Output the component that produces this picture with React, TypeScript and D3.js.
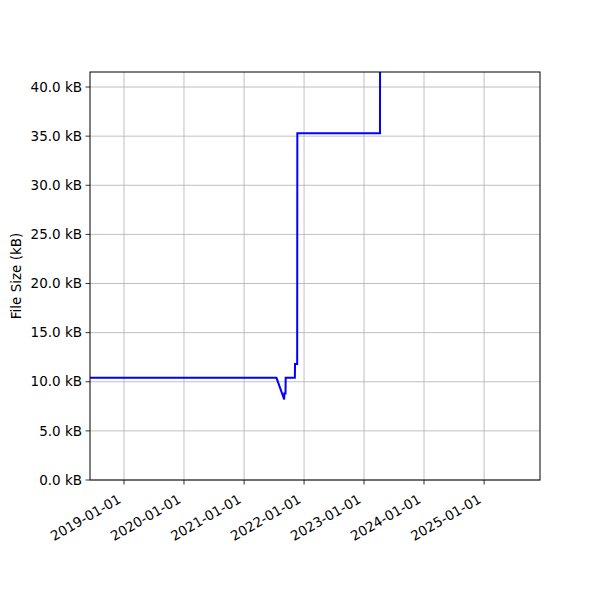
import React from "react";
import * as d3 from "d3";

const dates: string[] = [
  "2018-06-08", "2021-07-17", "2021-09-02", "2021-09-03", "2021-09-10", "2021-09-11",
  "2021-11-06", "2021-11-07", "2021-11-20", "2021-11-21", "2023-04-08", "2023-04-09",
];
const sizesKB: number[] = [10.4, 10.4, 8.2, 8.8, 8.8, 10.4, 10.4, 11.8, 11.8, 35.3, 35.3, 48];
const xTickLabels: string[] = [
  "2019-01-01", "2020-01-01", "2021-01-01", "2022-01-01", "2023-01-01", "2024-01-01", "2025-01-01",
];
const yTicks: number[] = [0, 5, 10, 15, 20, 25, 30, 35, 40];

export default function App() {
  const W = 600, H = 600;
  const left = 90, right = 540, top = 72, bottom = 480;
  const parse = d3.utcParse("%Y-%m-%d");
  const x = d3.scaleUtc()
    .domain([parse("2018-06-08")!, parse("2025-12-07")!])
    .range([left, right]);
  const y = d3.scaleLinear().domain([0, 41.53]).range([bottom, top]);
  const data = dates.map((d, i) => ({ t: parse(d)!, v: sizesKB[i] }));
  const line = d3.line<{ t: Date; v: number }>().x(d => x(d.t)).y(d => y(d.v));
  const font = "DejaVu Sans, sans-serif";
  const fs = 13.5;
  return (
    <svg width={W} height={H} style={{ position: "absolute", left: 0, top: 0, background: "#fff" }}>
      <defs>
        <clipPath id="plot"><rect x={left} y={top} width={right - left} height={bottom - top} /></clipPath>
      </defs>
      {xTickLabels.map(l => {
        const px = x(parse(l)!);
        return <line key={"gx" + l} x1={px} x2={px} y1={top} y2={bottom} stroke="#b0b0b0" strokeWidth={0.8} />;
      })}
      {yTicks.map(v => (
        <line key={"gy" + v} x1={left} x2={right} y1={y(v)} y2={y(v)} stroke="#b0b0b0" strokeWidth={0.8} />
      ))}
      <path d={line(data)!} fill="none" stroke="#0000ff" strokeWidth={2} clipPath="url(#plot)" strokeLinejoin="miter" />
      <rect x={left} y={top} width={right - left} height={bottom - top} fill="none" stroke="#000" strokeWidth={1} />
      {xTickLabels.map(l => {
        const px = x(parse(l)!);
        return (
          <g key={"tx" + l}>
            <line x1={px} x2={px} y1={bottom} y2={bottom + 4.5} stroke="#000" strokeWidth={0.8} />
            <text transform={`translate(${px - 2},${bottom + 22}) rotate(-30)`} textAnchor="end"
              fontFamily={font} fontSize={fs} fill="#000">{l}</text>
          </g>
        );
      })}
      {yTicks.map(v => (
        <g key={"ty" + v}>
          <line x1={left - 4.5} x2={left} y1={y(v)} y2={y(v)} stroke="#000" strokeWidth={0.8} />
          <text x={left - 8} y={y(v)} dy="0.35em" textAnchor="end" fontFamily={font} fontSize={fs} fill="#000">
            {v.toFixed(1) + " kB"}
          </text>
        </g>
      ))}
      <text transform={`translate(21,${(top + bottom) / 2}) rotate(-90)`} textAnchor="middle"
        fontFamily={font} fontSize={fs} fill="#000">File Size (kB)</text>
    </svg>
  );
}
